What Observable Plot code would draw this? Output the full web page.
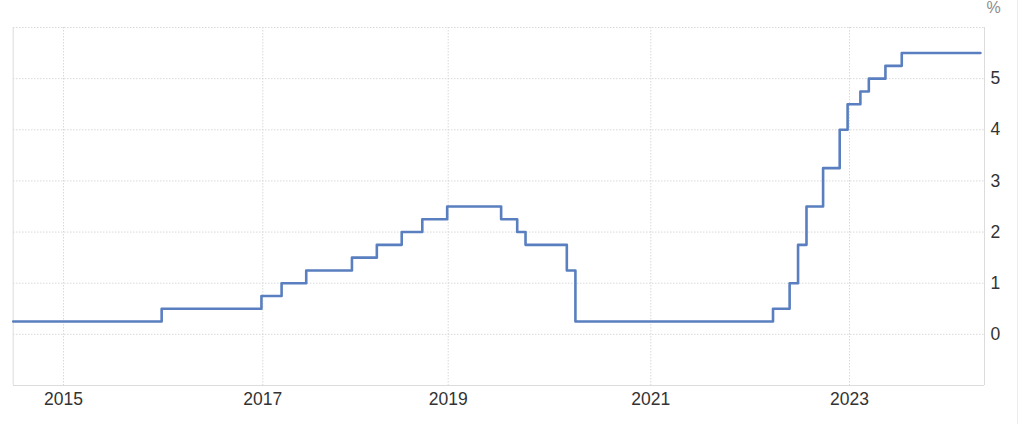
<!DOCTYPE html>
<html><head><meta charset="utf-8">
<script src="https://cdn.jsdelivr.net/npm/d3@7"></script>
<script src="https://cdn.jsdelivr.net/npm/@observablehq/plot@0.6"></script>
<style>
html,body{margin:0;padding:0;background:#fff;}
#wrap{position:relative;width:1024px;height:424px;overflow:hidden;font-family:"Liberation Sans",Arial,sans-serif;}
#edge{position:absolute;left:1017px;top:0;width:1px;height:424px;background:#ececec;}
</style></head><body>
<div id="wrap"><div id="chart"></div><div id="edge"></div></div>
<script>
// Step dates (rate in effect from this date) and policy rate values, %
const stepDates = ["2014-07-01","2015-12-27","2016-12-27","2017-03-16","2017-06-21","2017-12-18","2018-03-26","2018-07-02","2018-09-21","2018-12-28","2019-07-11","2019-09-07","2019-10-07","2020-03-04","2020-04-04","2022-03-26","2022-05-26","2022-06-26","2022-07-27","2022-09-26","2022-11-26","2022-12-25","2023-02-10","2023-03-13","2023-05-13","2023-07-12","2024-04-26"];
const rates = [0.25,0.5,0.75,1,1.25,1.5,1.75,2,2.25,2.5,2.25,2,1.75,1.25,0.25,0.5,1,1.75,2.5,3.25,4,4.5,4.75,5,5.25,5.5,5.5];

// Axis ticks
const xTickYears = ["2015","2017","2019","2021","2023"];
const yTicks = [0,1,2,3,4,5];
const yGrid = [0,1,2,3,4,5,6];

// The source chart uses an ordinal-like time axis: piecewise anchors
const xDomainAnchors = ["2014-07-01","2015-01-01","2017-01-01","2019-01-01","2021-01-01","2023-01-01","2024-05-11"];
const xRangeAnchors = [12.7,63,262.3,447.7,650.3,849,984];

const data = stepDates.map((d,i)=>({date:new Date(d+"T00:00:00Z"), rate:rates[i]}));
const xTicks = xTickYears.map(y=>new Date(y+"-01-01T00:00:00Z"));
const d0 = new Date(xDomainAnchors[0]+"T00:00:00Z");
const d1 = new Date(xDomainAnchors[xDomainAnchors.length-1]+"T00:00:00Z");

const chart = Plot.plot({
  width: 1024,
  height: 424,
  marginTop: 27,
  marginBottom: 39,
  marginLeft: 13,
  marginRight: 40,
  style: {fontFamily: '"Liberation Sans", Arial, sans-serif', fontSize: "17px", color: "#333", background: "#fff"},
  x: {type: "utc", domain: xDomainAnchors.map(d=>new Date(d+"T00:00:00Z")), range: xRangeAnchors},
  y: {domain: [-1, 6]},
  marks: [
    Plot.gridY(yGrid, {stroke: "#d9d9d9", strokeOpacity: 1, strokeDasharray: "1.5,1.5"}),
    Plot.gridX(xTicks, {stroke: "#d9d9d9", strokeOpacity: 1, strokeDasharray: "1.5,1.5"}),
    Plot.ruleY([-1], {stroke: "#dcdcdc"}),
    Plot.ruleX([d0, d1], {stroke: "#dcdcdc"}),
    Plot.axisX(xTicks, {tickFormat: d3.utcFormat("%Y"), tickSize: 0, tickPadding: 7, fontSize: 17.5, label: null}),
    Plot.axisY(yTicks, {anchor: "right", tickFormat: d3.format("d"), tickSize: 0, tickPadding: 6, fontSize: 17.5, label: null}),
    Plot.text(["%"], {frameAnchor: "top-right", text: d=>d, textAnchor: "middle", lineAnchor: "middle", dx: 9, dy: -20, fill: "#8c8c8c", fontSize: 16}),
    Plot.line(data, {x: "date", y: "rate", curve: "step-after", stroke: "#5a7fc0", strokeWidth: 2.6})
  ]
});
document.getElementById("chart").appendChild(chart);
</script>
</body></html>
